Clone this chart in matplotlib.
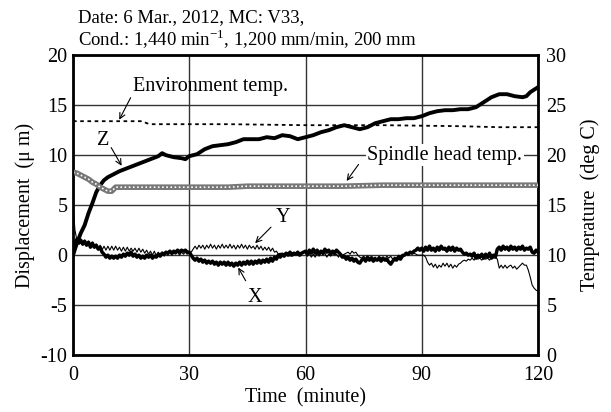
import numpy as np
import matplotlib
matplotlib.use('Agg')
import matplotlib.pyplot as plt

plt.rcParams['font.family'] = ['Liberation Serif', 'DejaVu Serif']
plt.rcParams['axes.unicode_minus'] = False
plt.rcParams['mathtext.fontset'] = 'custom'
plt.rcParams['mathtext.rm'] = 'Liberation Serif'

# displacement Z (um)
tz = [0, 1, 2, 3, 4, 5, 6, 7, 8, 9, 10, 12, 14, 16, 18, 20, 22, 23, 24, 26, 28, 29,
      30, 32, 34, 36, 38, 40, 42, 44, 46, 48, 50, 52, 54, 56, 58, 60, 62, 64, 66, 68,
      70, 72, 74, 76, 78, 80, 82, 84, 86, 88, 90, 92, 94, 96, 98, 100, 102, 104, 106,
      108, 110, 112, 114, 116, 117, 118, 120]
z = [0.0, 1.2, 2.2, 3.0, 4.2, 5.2, 6.3, 7.0, 7.5, 7.8, 8.0, 8.4, 8.7, 9.0, 9.3, 9.6, 9.9, 10.2, 10.0, 9.8, 9.7, 9.6,
     9.9, 10.1, 10.6, 10.9, 11.0, 11.1, 11.3, 11.6, 11.6, 11.6, 11.8, 11.7, 12.0, 11.9, 11.6, 11.8, 12.0, 12.3, 12.5, 12.8,
     13.0, 12.8, 12.6, 12.8, 13.2, 13.4, 13.6, 13.6, 13.7, 13.7, 13.9, 14.2, 14.4, 14.5, 14.5, 14.6, 14.6, 14.8, 15.3,
     15.8, 16.1, 16.1, 15.9, 15.8, 15.9, 16.3, 16.8]

# X and Y sampled every 0.5 minute, one row per 10 minutes
txy = np.arange(0, 120.5, 0.5)
x = [0.0, 1.0, 1.6, 1.2, 1.5, 1.1, 1.4, 1.0, 1.3, 0.8, 1.2, 0.8, 1.0, 0.6, 0.8, 0.3, 0.1, -0.2, 0.0, -0.3,
     -0.1, -0.3, -0.1, -0.3, 0.0, -0.2, 0.1, -0.1, 0.2, 0.0, 0.3, -0.1, 0.1, -0.2, 0.0, -0.3, -0.1, -0.3, 0.0, -0.2,
     0.0, -0.3, -0.1, -0.2, 0.1, -0.1, 0.2, 0.1, 0.3, 0.2, 0.4, 0.2, 0.4, 0.3, 0.5, 0.3, 0.5, 0.4, 0.5, 0.3,
     0.3, 0.0, -0.3, -0.5, -0.3, -0.6, -0.4, -0.7, -0.5, -0.8, -0.6, -0.8, -0.6, -0.9, -0.7, -1.0, -0.7, -0.9, -0.7, -1.0,
     -0.7, -1.0, -0.8, -1.1, -0.8, -1.0, -0.7, -1.0, -0.7, -0.9, -0.6, -0.9, -0.6, -0.9, -0.6, -0.8, -0.5, -0.8, -0.5, -0.7,
     -0.4, -0.7, -0.3, -0.6, -0.2, -0.4, 0.0, -0.2, 0.1, -0.1, 0.2, 0.0, 0.3, 0.0, 0.2, 0.1, 0.3, 0.0, 0.2, 0.3,
     0.4, 0.1, 0.5, 0.2, 0.6, 0.2, 0.5, 0.1, 0.4, 0.2, 0.6, 0.3, 0.5, 0.1, 0.4, 0.2, 0.5, 0.3, 0.1, -0.2,
     -0.1, -0.4, -0.2, -0.5, -0.3, -0.6, -0.4, -0.7, -0.8, -0.5, -0.3, -0.6, -0.2, -0.5, -0.3, -0.6, -0.4, -0.5, -0.3, -0.6,
     -0.3, -0.5, -0.4, -0.7, -0.9, -0.6, -0.4, -0.5, -0.2, -0.4, -0.1, 0.0, 0.2, 0.1, 0.3, 0.2, 0.4, 0.5, 0.7, 0.5,
     0.7, 0.4, 0.8, 0.5, 0.9, 0.5, 0.7, 0.4, 0.8, 0.5, 0.9, 0.6, 0.7, 0.4, 0.8, 0.5, 0.8, 0.4, 0.7, 0.5,
     0.6, 0.3, 0.1, 0.2, 0.0, 0.1, -0.1, 0.2, -0.3, 0.0, -0.2, 0.1, -0.3, 0.1, -0.2, 0.2, -0.3, 0.0, -0.2, 0.6,
     0.8, 0.5, 0.9, 0.6, 0.8, 0.5, 0.9, 0.6, 0.8, 0.5, 0.8, 0.6, 0.9, 0.5, 0.7, 0.6, 0.8, 0.3, 0.2, 0.5,
     0.3]
y = [5.0, 2.5, 1.5, 1.2, 1.6, 1.0, 1.5, 0.9, 1.4, 0.8, 1.3, 0.7, 1.1, 0.6, 1.0, 0.5, 0.9, 0.5, 0.9, 0.5,
     0.9, 0.5, 0.9, 0.5, 0.8, 0.4, 0.8, 0.4, 0.8, 0.4, 0.7, 0.4, 0.7, 0.3, 0.7, 0.3, 0.6, 0.2, 0.5, 0.1,
     0.4, 0.0, 0.4, -0.1, 0.3, 0.0, 0.3, -0.1, 0.2, 0.0, 0.3, 0.0, 0.2, 0.1, 0.3, 0.0, 0.3, 0.1, 0.3, 0.1,
     0.2, 0.3, 0.6, 0.9, 0.6, 1.0, 0.7, 1.0, 0.6, 1.0, 0.7, 1.1, 0.7, 1.0, 0.6, 1.0, 0.7, 1.1, 0.7, 1.0,
     0.7, 1.1, 0.7, 1.0, 0.6, 1.0, 0.7, 1.1, 0.7, 1.0, 0.6, 1.0, 0.7, 0.9, 0.6, 1.0, 0.6, 0.9, 0.5, 0.8,
     0.5, 0.8, 0.4, 0.7, 0.3, 0.4, 0.1, 0.2, -0.1, 0.2, 0.0, 0.2, -0.1, 0.1, 0.0, 0.2, 0.0, 0.1, 0.1, 0.3,
     0.2, -0.1, 0.2, -0.2, 0.1, -0.2, 0.2, -0.1, 0.3, 0.0, 0.2, -0.2, 0.1, -0.1, 0.2, 0.0, 0.1, -0.2, 0.1, 0.0,
     0.1, 0.2, 0.3, 0.1, 0.4, 0.2, 0.3, 0.0, -0.2, -0.3, -0.1, -0.4, -0.2, -0.4, -0.1, -0.3, -0.2, -0.4, -0.1, -0.3,
     -0.2, -0.4, -0.1, -0.3, -0.1, -0.4, -0.2, -0.3, 0.0, -0.1, 0.1, 0.0, 0.2, 0.1, 0.3, 0.2, 0.2, 0.1, 0.0, 0.0,
     0.0, 0.0, -0.2, -0.7, -1.0, -0.8, -1.2, -0.9, -1.3, -1.0, -1.2, -0.8, -1.1, -0.8, -1.2, -0.9, -1.3, -1.0, -1.2, -0.9,
     -0.8, -0.6, -0.5, -0.6, -0.4, -0.5, -0.3, -0.5, -0.2, -0.4, -0.3, -0.5, -0.2, -0.4, -0.3, -0.5, -0.2, -0.3, -0.2, -0.4,
     -1.3, -1.0, -1.3, -1.0, -1.3, -1.1, -1.0, -1.3, -1.1, -1.4, -1.2, -1.0, -0.8, -1.0, -1.0, -1.5, -2.2, -3.0, -3.3, -3.5,
     -3.6]

# temperatures (deg C)
tenv = [0, 18, 19, 20, 40, 60, 80, 100, 110, 120]
env = [23.4, 23.4, 23.2, 23.1, 23.1, 23.0, 23.0, 22.9, 22.8, 22.8]
tsp = [0, 1, 2, 3, 4, 5, 6, 7, 8, 9, 10, 11, 12, 20, 30, 40, 45, 50, 60, 70, 80, 90, 100, 110, 120]
sp = [18.3, 18.2, 18.0, 17.8, 17.6, 17.3, 17.1, 16.8, 16.6, 16.4, 16.4, 16.8, 16.8, 16.8, 16.8, 16.8, 16.9, 16.9,
      16.9, 16.9, 17.0, 17.0, 17.0, 17.0, 17.0]

fs = 14.5
fig = plt.figure(figsize=(6.11, 4.12), dpi=100)
ax = fig.add_axes([0.1195, 0.138, 0.761, 0.728])
ax.set_xlim(0, 120)
ax.set_ylim(-10, 20)
ax.set_xticks([0, 30, 60, 90, 120])
ax.set_yticks(range(-10, 25, 5))
ax.grid(True, color='#333333', lw=1)
ax.set_axisbelow(True)
ax.tick_params(length=0, labelsize=fs, pad=4)
ax.tick_params(axis='x', pad=8)
for s in ax.spines.values():
    s.set_linewidth(2)
ax.set_xlabel('Time  (minute)', fontsize=fs, labelpad=2)
ax.set_ylabel('Displacement  (μ m)', fontsize=fs, labelpad=4)

ax.plot(txy, y, color='black', lw=0.8)
ax.plot(txy, x, color='black', lw=2.5)
ax.plot(tz, z, color='black', lw=2.8)

ax2 = ax.twinx()
ax2.set_ylim(0, 30)
ax2.set_yticks(range(0, 35, 5))
ax2.tick_params(length=0, labelsize=fs, pad=6)
ax2.set_ylabel('Temperature  (deg C)', fontsize=fs, labelpad=10)
ax2.plot(tenv, env, color='black', lw=1.3, ls=(0, (2, 2)))
ax2.plot(tsp, sp, color='#777777', lw=4)
ax2.plot(tsp, sp, color='white', lw=1.2, ls=(0, (1, 1.5)))

arr = dict(arrowstyle='->', color='black', lw=0.8)
ax.text(15.5, 16.9, 'Environment temp.', fontsize=fs, va='center')
ax.annotate('', xy=(11.6, 13.3), xytext=(15.2, 16.0), arrowprops=arr)
ax.text(7.7, 11.5, 'Z', fontsize=fs, ha='center', va='center')
ax.annotate('', xy=(12.9, 8.7), xytext=(9.5, 11.0), arrowprops=arr)
ax.text(75.9, 10.0, 'Spindle head temp.', fontsize=fs, va='center',
        bbox=dict(facecolor='white', edgecolor='none', pad=1))
ax.annotate('', xy=(70.2, 7.2), xytext=(74.1, 9.3), arrowprops=arr)
ax.text(54.1, 3.8, 'Y', fontsize=fs, ha='center', va='center')
ax.annotate('', xy=(46.5, 1.0), xytext=(51.6, 3.0), arrowprops=arr)
ax.text(47.0, -4.2, 'X', fontsize=fs, ha='center', va='center')
ax.annotate('', xy=(42.3, -1.0), xytext=(44.9, -2.8), arrowprops=arr)

fig.text(78 / 611, 1 - 22 / 412, 'Date: 6 Mar., 2012, MC: V33,', fontsize=13.5, va='baseline')
fig.text(78 / 611, 1 - 46 / 412, 'Cond.: 1,440 min$^{-1}$, 1,200 mm/min, 200 mm', fontsize=13.5, va='baseline')

fig.savefig('out.png', dpi=100)
